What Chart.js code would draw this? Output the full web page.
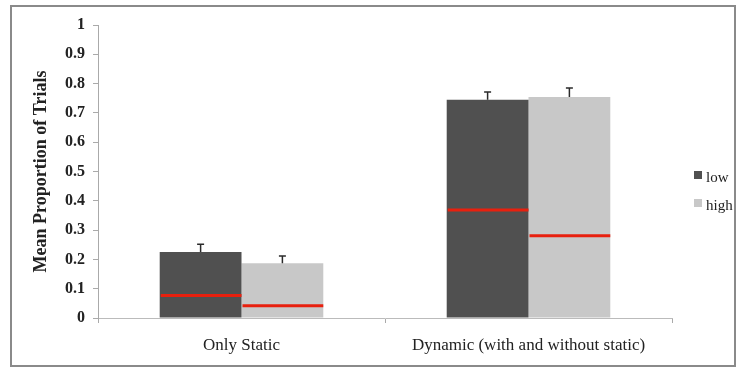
<!DOCTYPE html>
<html>
<head>
<meta charset="utf-8">
<script src="https://cdn.jsdelivr.net/npm/chart.js@4"></script>
<style>
    body { margin: 0; background: #fff; }
    .wrap { position: relative; width: 741px; height: 371px; }
    .frame { position: absolute; left: 10px; top: 5px; width: 726px; height: 362px; box-sizing: border-box; border: 2px solid #8a8a8a; pointer-events: none; }
</style>
</head>
<body>
<div class="wrap">
    <canvas id="chart1" width="741" height="371"></canvas>
    <div class="frame"></div>
</div>
<script>
const categories = ['Only Static', 'Dynamic (with and without static)'];
const lowMeans = [0.225, 0.745];
const highMeans = [0.187, 0.754];
// bovenkant van de foutbalk (alleen naar boven getekend)
const lowErr = [0.027, 0.026];
const highErr = [0.025, 0.031];
// rode lijnen in de balken
const lowMarker = [0.077, 0.369];
const highMarker = [0.042, 0.281];
const yTicks = [0, 0.1, 0.2, 0.3, 0.4, 0.5, 0.6, 0.7, 0.8, 0.9, 1];

const serif = "'Liberation Serif', 'DejaVu Serif', serif";

const extras = {
    id: 'extras',
    afterDatasetsDraw(chart) {
        const ctx = chart.ctx;
        const y = chart.scales.y;
        const errs = [lowErr, highErr];
        const marks = [lowMarker, highMarker];
        const means = [lowMeans, highMeans];
        for (let d = 0; d < 2; d++) {
            const meta = chart.getDatasetMeta(d);
            meta.data.forEach((bar, i) => {
                const top = y.getPixelForValue(means[d][i]);
                const errTop = y.getPixelForValue(means[d][i] + errs[d][i]);
                ctx.save();
                ctx.strokeStyle = '#2a2a2a';
                ctx.lineWidth = 1.5;
                ctx.beginPath();
                ctx.moveTo(bar.x, top);
                ctx.lineTo(bar.x, errTop);
                ctx.moveTo(bar.x - 3.5, errTop);
                ctx.lineTo(bar.x + 3.5, errTop);
                ctx.stroke();
                // rode lijn
                const my = y.getPixelForValue(marks[d][i]);
                ctx.strokeStyle = '#e8200e';
                ctx.lineWidth = 3;
                ctx.beginPath();
                ctx.moveTo(bar.x - bar.width / 2 + 1, my);
                ctx.lineTo(bar.x + bar.width / 2, my);
                ctx.stroke();
                ctx.restore();
            });
        }
    },
    afterDraw(chart) {
        // eigen legenda rechts van de grafiek
        const ctx = chart.ctx;
        ctx.save();
        ctx.font = '15px ' + serif;
        ctx.textBaseline = 'alphabetic';
        chart.data.datasets.forEach((ds, i) => {
            const y = 171 + i * 28;
            ctx.fillStyle = ds.backgroundColor;
            ctx.fillRect(694, y, 8, 8);
            ctx.fillStyle = '#222';
            ctx.fillText(ds.label, 706, y + 11);
        });
        ctx.restore();
    }
};

new Chart(document.getElementById('chart1'), {
    type: 'bar',
    data: {
        labels: categories,
        datasets: [{
            label: 'low',
            data: lowMeans,
            backgroundColor: '#505050',
            borderWidth: 0
        }, {
            label: 'high',
            data: highMeans,
            backgroundColor: '#c8c8c8',
            borderWidth: 0
        }]
    },
    options: {
        responsive: false,
        animation: false,
        layout: { padding: { left: 0, right: 69, top: 25, bottom: 0 } },
        categoryPercentage: 0.57,
        barPercentage: 1,
        plugins: {
            tooltip: { enabled: false },
            legend: { display: false }
        },
        scales: {
            x: {
                afterFit: (s) => { s.height = 53; },
                grid: { offset: true, drawOnChartArea: false, tickLength: 5, color: '#aaa' },
                border: { color: '#bbb', width: 1 },
                ticks: { color: '#222', padding: 12, font: { family: serif, size: 17 } }
            },
            y: {
                min: 0,
                max: 1,
                afterFit: (s) => { s.width = 98; },
                afterBuildTicks: (s) => { s.ticks = yTicks.map(v => ({ value: v })); },
                grid: { drawOnChartArea: false, tickLength: 5, color: '#aaa' },
                border: { color: '#aaa', width: 1 },
                ticks: {
                    color: '#222',
                    padding: 8,
                    font: { family: serif, size: 16, weight: 'bold' },
                    callback: (v) => String(v)
                },
                title: {
                    display: true,
                    text: 'Mean Proportion of Trials',
                    color: '#222',
                    padding: { top: 31, bottom: 0 },
                    font: { family: serif, size: 18, weight: 'bold' }
                }
            }
        }
    },
    plugins: [extras]
});
</script>
</body>
</html>
